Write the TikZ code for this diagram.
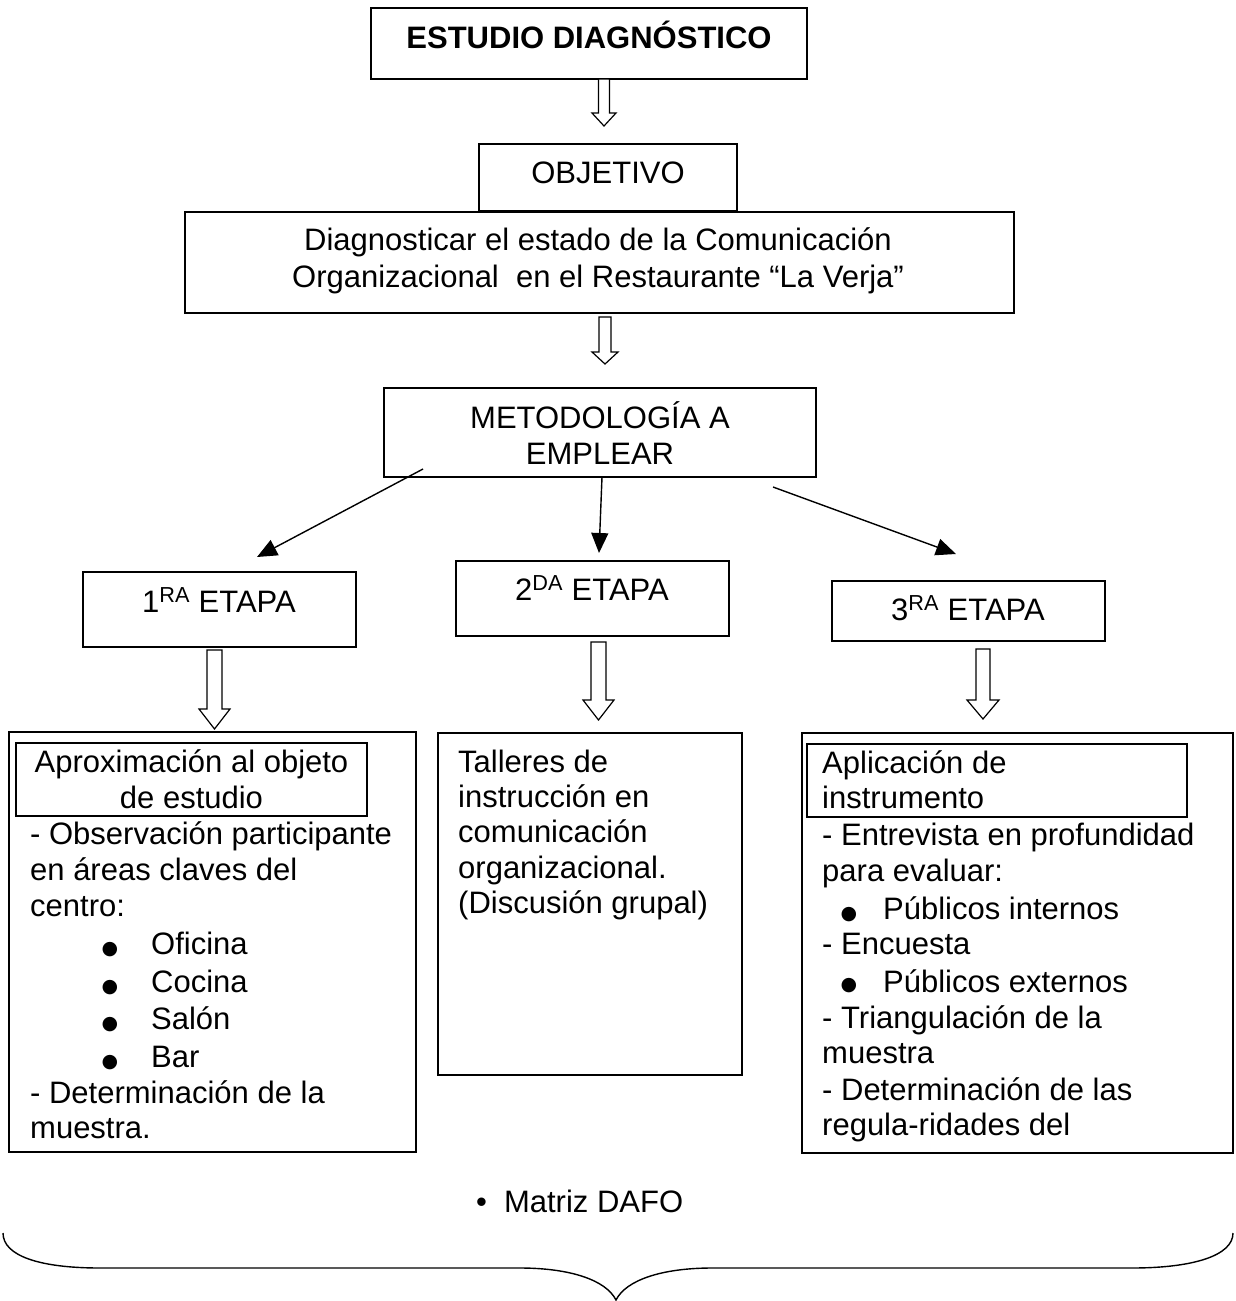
\documentclass[tikz,border=0pt]{standalone}
\usepackage{fontspec}
\setmainfont{Liberation Sans}
\newfontfamily\dejavu{DejaVu Sans}
\usetikzlibrary{arrows.meta}
\newcommand\msz{\fontsize{31}{36}\selectfont}
\newcommand\bsz{\dejavu\fontsize{19}{19}\selectfont}
% hollow arrow: #1 cx, #2 top, #3 head start, #4 tip, #5 shaft half width, #6 head half width
\newcommand\harrow[6]{%
  \draw[harr] ({#1-#5},#2) -- ({#1+#5},#2) -- ({#1+#5},#3) -- ({#1+#6},#3) -- (#1,#4)
    -- ({#1-#6},#3) -- ({#1-#5},#3) -- cycle;}
\begin{document}
\begin{tikzpicture}[x=1pt,y=-1pt,
  boxst/.style={draw, line width=1.4pt, inner sep=0pt},
  ibox/.style={draw, line width=1.9pt, inner sep=0pt},
  txt/.style={anchor=base west, inner sep=0pt, font=\msz},
  ctxt/.style={anchor=base, inner sep=0pt, font=\msz},
  bul/.style={anchor=base, inner sep=0pt, font=\bsz},
  harr/.style={draw, line width=1.2pt, fill=white, line join=miter},
  tarr/.style={line width=1.4pt, -{Triangle[length=20pt,width=17pt]}},
]
\useasboundingbox (0,0) rectangle (1236,1301);
\fill[white] (0,0) rectangle (1236,1301);

% ---- boxes ----
\node[boxst, minimum width=436pt, minimum height=71pt] (estudio) at (589,43.5) {};
\node[boxst, minimum width=258pt, minimum height=67pt] (objetivo) at (608,177.5) {};
\node[boxst, minimum width=829pt, minimum height=101pt] (diag) at (599.5,262.5) {};
\node[boxst, minimum width=432pt, minimum height=89pt] (metod) at (600,432.5) {};
\node[boxst, minimum width=273pt, minimum height=75pt] (e1) at (219.5,609.5) {};
\node[boxst, minimum width=273pt, minimum height=75pt] (e2) at (592.5,598.5) {};
\node[boxst, minimum width=273pt, minimum height=60pt] (e3) at (968.5,611) {};
\node[boxst, minimum width=407pt, minimum height=420pt] (b1) at (212.5,942) {};
\node[ibox, minimum width=351pt, minimum height=73pt] (b1in) at (191.5,779.5) {};
\node[boxst, minimum width=304pt, minimum height=342pt] (b2) at (590,904) {};
\node[boxst, minimum width=431pt, minimum height=420pt] (b3) at (1017.5,943) {};
\node[ibox, minimum width=380pt, minimum height=73pt] (b3in) at (997,780.5) {};

% ---- texts of upper part ----
\node[ctxt, font=\msz\bfseries] (testudio) at (589,48) {ESTUDIO DIAGNÓSTICO};
\node[ctxt] (tobj) at (608,183) {OBJETIVO};
\node[ctxt] (tdiag1) at (598,250) {Diagnosticar el estado de la Comunicación};
\node[ctxt] (tdiag2) at (598,287) {Organizacional\ \ en el Restaurante “La Verja”};
\node[ctxt] (tmet1) at (600,428) {METODOLOGÍA A};
\node[ctxt] (tmet2) at (600,464) {EMPLEAR};
\node[ctxt] (te1) at (219,612) {1\textsuperscript{RA} ETAPA};
\node[ctxt] (te2) at (592,600) {2\textsuperscript{DA} ETAPA};
\node[ctxt] (te3) at (968,620) {3\textsuperscript{RA} ETAPA};

% ---- hollow arrows ----
\harrow{604}{79}{113}{126}{5.5}{12}
\harrow{605}{317}{352}{364}{6}{13}
\harrow{214.5}{650}{709}{729}{7.5}{15.5}
\harrow{598.5}{642}{700}{720}{7.5}{15.5}
\harrow{983}{649}{700}{719}{7}{16}

% ---- thin arrows ----
\coordinate (s1) at (423,469);
\coordinate (p1) at (257,557);
\coordinate (s2) at (602,477);
\coordinate (p2) at (599,553);
\coordinate (s3) at (773,487);
\coordinate (p3) at (956,554);
\draw[tarr] (s1) -- (p1);
\draw[tarr] (s2) -- (p2);
\draw[tarr] (s3) -- (p3);

% ---- left box text ----
\node[ctxt] (l1) at (191.5,772) {Aproximación al objeto};
\node[ctxt] (l2) at (191.5,808) {de estudio};
\node[txt] (l3) at (30,844) {- Observación participante};
\node[txt] (l4) at (30,880) {en áreas claves del};
\node[txt] (l5) at (30,916) {centro:};
\node[bul] (lb1) at (110,954) {●};
\node[txt] (l6) at (151,954) {Oficina};
\node[bul] (lb2) at (110,992) {●};
\node[txt] (l7) at (151,992) {Cocina};
\node[bul] (lb3) at (110,1029) {●};
\node[txt] (l8) at (151,1029) {Salón};
\node[bul] (lb4) at (110,1067) {●};
\node[txt] (l9) at (151,1067) {Bar};
\node[txt] (l10) at (30,1103) {- Determinación de la};
\node[txt] (l11) at (30,1138) {muestra.};

% ---- middle box text ----
\node[txt] (m1) at (458,772) {Talleres de};
\node[txt] (m2) at (458,807) {instrucción en};
\node[txt] (m3) at (458,842) {comunicación};
\node[txt] (m4) at (458,878) {organizacional.};
\node[txt] (m5) at (458,913) {(Discusión grupal)};

% ---- right box text ----
\node[txt] (r1) at (822,773) {Aplicación de};
\node[txt] (r2) at (822,808) {instrumento};
\node[txt] (r3) at (822,845) {- Entrevista en profundidad};
\node[txt] (r4) at (822,881) {para evaluar:};
\node[bul] (rb1) at (849,919) {●};
\node[txt] (r5) at (883,919) {Públicos internos};
\node[txt] (r6) at (822,954) {- Encuesta};
\node[bul] (rb2) at (849,990) {●};
\node[txt] (r7) at (883,992) {Públicos externos};
\node[txt] (r8) at (822,1028) {- Triangulación de la};
\node[txt] (r9) at (822,1063) {muestra};
\node[txt] (r10) at (822,1100) {- Determinación de las};
\node[txt] (r11) at (822,1135) {regula-ridades del};

% ---- bottom ----
\node[txt] (dafo) at (476,1212) {•\hspace{17pt}Matriz DAFO};
\draw[line width=1.4pt] (3,1233) .. controls (3,1256) and (40,1268) .. (100,1268)
  -- (520,1268) .. controls (570,1268) and (606,1280) .. (616,1300)
  .. controls (626,1280) and (662,1268) .. (712,1268)
  -- (1132,1268) .. controls (1192,1268) and (1233,1256) .. (1233,1233);
\end{tikzpicture}
\end{document}
